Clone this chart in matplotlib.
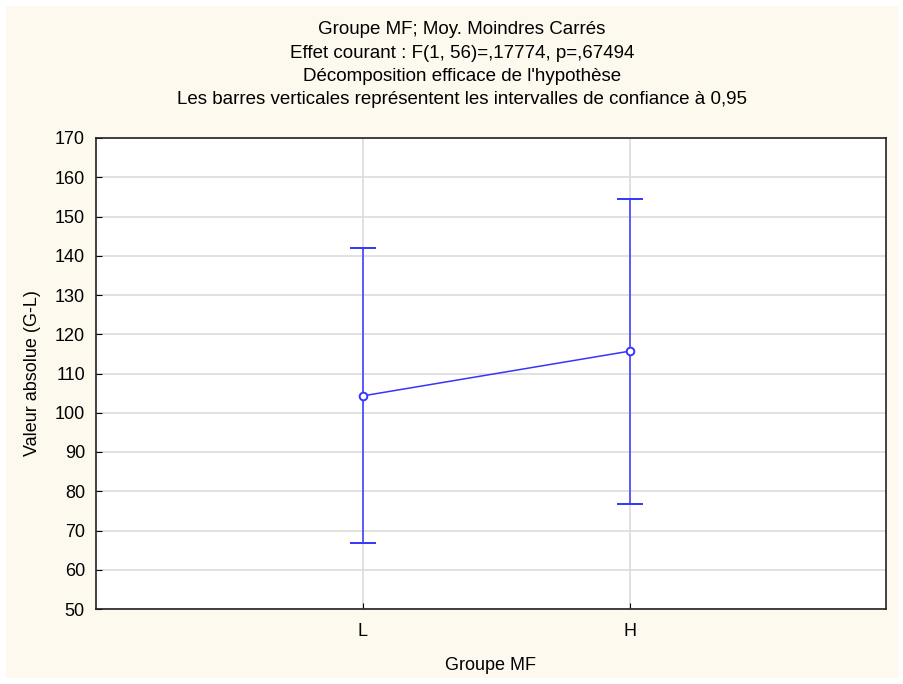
import numpy as np
import matplotlib.pyplot as plt
from matplotlib.patches import Rectangle

groupes = ['L', 'H']
moyennes = [104.3, 115.7]
ic_haut = [142.0, 154.5]
ic_bas = [66.8, 76.8]

plt.rcParams['font.family'] = ['Liberation Sans', 'DejaVu Sans']

fig = plt.figure(figsize=(9.04, 6.84), dpi=100, facecolor='white')
# fond crème avec une petite bordure blanche
fig.patches.append(Rectangle((6/904, 6/684), 892/904, 672/684, transform=fig.transFigure,
                             facecolor='#fef9ef', edgecolor='none', zorder=0))

ax = fig.add_axes([96/904, 1 - 609/684, 790/904, 471/684])
ax.set_zorder(2)
ax.set_facecolor('white')

x = np.arange(len(groupes))
m = np.array(moyennes)
err = [m - np.array(ic_bas), np.array(ic_haut) - m]
bleu = '#3535ff'
ax.errorbar(x, m, yerr=err, color=bleu, lw=1.1, capsize=9.5, capthick=1.1,
            marker='o', markersize=5.5, markerfacecolor='white', markeredgecolor=bleu,
            markeredgewidth=1.4, zorder=3)

ax.set_xlim(-1, 1.96)
ax.set_ylim(50, 170)
ax.set_yticks(np.arange(50, 171, 10))
ax.set_xticks(x)
ax.set_xticklabels(groupes)
ax.grid(True, color='#dcdcdc', lw=1.2)
ax.set_axisbelow(True)
ax.tick_params(direction='in', length=4, labelsize=13, color='black')
ax.tick_params(axis='x', pad=10)
ax.tick_params(axis='y', pad=8)
for s in ax.spines.values():
    s.set_linewidth(1.2)
    s.set_color('#222222')

ax.set_xlabel('Groupe MF', fontsize=13, labelpad=12)
ax.set_ylabel('Valeur absolue (G-L)', fontsize=13, labelpad=10)

titre = ("Groupe MF; Moy. Moindres Carrés\n"
         "Effet courant : F(1, 56)=,17774, p=,67494\n"
         "Décomposition efficace de l'hypothèse\n"
         "Les barres verticales représentent les intervalles de confiance à 0,95")
fig.text(462/904, 1 - 21/684, titre, ha='center', va='top',
         fontsize=13.5, linespacing=1.5)

plt.savefig('out.png', dpi=100, facecolor=fig.get_facecolor())
